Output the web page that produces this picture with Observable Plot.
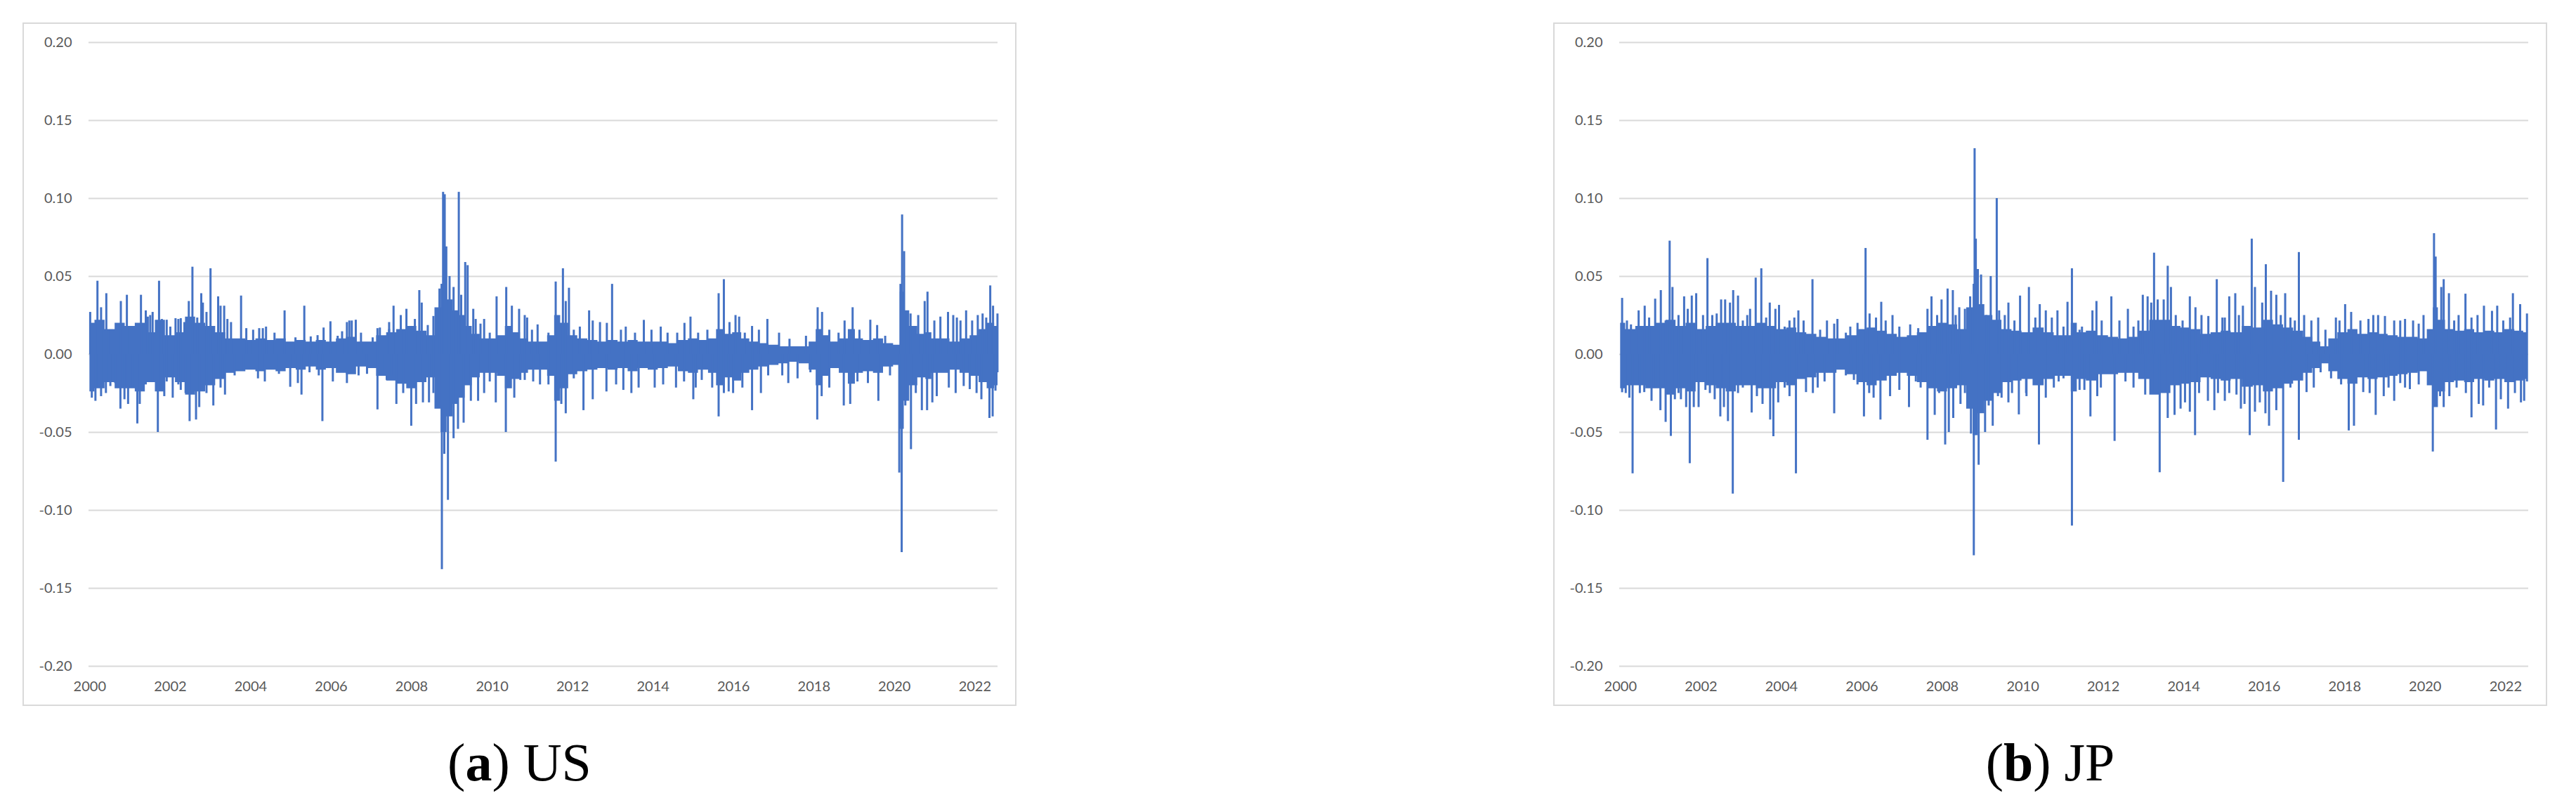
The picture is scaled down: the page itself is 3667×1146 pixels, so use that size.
<!DOCTYPE html>
<html>
<head>
<meta charset="utf-8">
<script src="https://cdn.jsdelivr.net/npm/d3@7"></script>
<script src="https://cdn.jsdelivr.net/npm/@observablehq/plot@0.6"></script>
<style>
  html, body { margin: 0; padding: 0; background: #ffffff; }
  body { width: 3667px; height: 1146px; position: relative; overflow: hidden; }
  .panel { position: absolute; top: 32px; width: 1415px; height: 973px; }
  .frame { position: absolute; left: 0; top: 0; width: 1415px; height: 973px; box-sizing: border-box; border: 2px solid #d9d9d9; pointer-events: none; }
  .caption { position: absolute; top: 1040px; width: 1415px; text-align: center; font-family: "Liberation Serif", "Times New Roman", serif; font-size: 76px; color: #000; line-height: 90px; }
  .caption b { font-weight: bold; }
</style>
</head>
<body>
<script>
// ---------------- data ----------------
const panelNames = ["US", "JP"];
const panelLetters = ["a", "b"];
const yTicks = [-0.20, -0.15, -0.10, -0.05, 0.00, 0.05, 0.10, 0.15, 0.20];
const xTickYears = [2000, 2002, 2004, 2006, 2008, 2010, 2012, 2014, 2016, 2018, 2020, 2022];
const seriesStart = 1999.977;
const usSeriesEnd = 2022.57;
const jpSeriesEnd = 2022.57;

// dense body of the daily series: [decimal year, upper edge, lower edge]
const usCore = [
  [2000.0, 0.020, -0.024], [2000.25, 0.022, -0.022], [2000.5, 0.016, -0.018], [2000.75, 0.020, -0.022],
  [2001.0, 0.018, -0.022], [2001.25, 0.020, -0.024], [2001.5, 0.014, -0.018], [2001.75, 0.022, -0.024],
  [2002.0, 0.012, -0.015], [2002.25, 0.014, -0.018], [2002.5, 0.024, -0.026], [2002.75, 0.020, -0.024],
  [2003.0, 0.018, -0.020], [2003.25, 0.014, -0.016], [2003.5, 0.010, -0.012], [2003.75, 0.010, -0.011],
  [2004.0, 0.009, -0.010], [2004.25, 0.010, -0.011], [2004.5, 0.009, -0.010], [2004.75, 0.010, -0.011],
  [2005.0, 0.008, -0.009], [2005.25, 0.009, -0.010], [2005.5, 0.008, -0.008], [2005.75, 0.009, -0.010],
  [2006.0, 0.008, -0.009], [2006.25, 0.010, -0.012], [2006.5, 0.011, -0.013], [2006.75, 0.008, -0.008],
  [2007.0, 0.008, -0.009], [2007.25, 0.012, -0.014], [2007.5, 0.014, -0.017], [2007.75, 0.016, -0.019],
  [2008.0, 0.018, -0.022], [2008.25, 0.015, -0.018], [2008.5, 0.012, -0.015], [2008.65, 0.030, -0.035],
  [2008.8, 0.045, -0.050], [2008.95, 0.035, -0.040], [2009.1, 0.028, -0.032], [2009.25, 0.025, -0.028],
  [2009.4, 0.018, -0.020], [2009.6, 0.013, -0.015], [2009.8, 0.010, -0.012], [2010.0, 0.010, -0.012],
  [2010.25, 0.012, -0.014], [2010.4, 0.018, -0.022], [2010.6, 0.014, -0.016], [2010.8, 0.010, -0.012],
  [2011.0, 0.008, -0.010], [2011.25, 0.008, -0.010], [2011.5, 0.012, -0.014], [2011.6, 0.025, -0.030],
  [2011.8, 0.020, -0.022], [2012.0, 0.012, -0.013], [2012.25, 0.010, -0.011], [2012.5, 0.009, -0.010],
  [2012.75, 0.008, -0.009], [2013.0, 0.009, -0.010], [2013.25, 0.008, -0.009], [2013.5, 0.009, -0.011],
  [2013.75, 0.008, -0.009], [2014.0, 0.008, -0.010], [2014.25, 0.008, -0.009], [2014.5, 0.007, -0.008],
  [2014.75, 0.009, -0.011], [2015.0, 0.010, -0.012], [2015.25, 0.009, -0.010], [2015.5, 0.010, -0.012],
  [2015.65, 0.016, -0.020], [2015.85, 0.013, -0.015], [2016.1, 0.014, -0.017], [2016.3, 0.010, -0.012],
  [2016.5, 0.008, -0.010], [2016.75, 0.007, -0.008], [2017.0, 0.006, -0.007], [2017.25, 0.005, -0.006],
  [2017.5, 0.005, -0.005], [2017.75, 0.005, -0.006], [2018.0, 0.008, -0.010], [2018.1, 0.016, -0.020],
  [2018.3, 0.012, -0.014], [2018.5, 0.008, -0.009], [2018.75, 0.010, -0.012], [2018.95, 0.016, -0.019],
  [2019.1, 0.010, -0.012], [2019.35, 0.009, -0.011], [2019.6, 0.010, -0.012], [2019.85, 0.007, -0.008],
  [2020.1, 0.006, -0.007], [2020.18, 0.040, -0.048], [2020.3, 0.028, -0.030], [2020.45, 0.018, -0.020],
  [2020.7, 0.013, -0.015], [2020.85, 0.014, -0.016], [2021.0, 0.010, -0.012], [2021.25, 0.010, -0.012],
  [2021.5, 0.008, -0.010], [2021.75, 0.010, -0.012], [2022.0, 0.012, -0.014], [2022.2, 0.016, -0.018],
  [2022.4, 0.020, -0.022], [2022.57, 0.018, -0.020]
];
// individual large daily moves: [decimal year, return]
const usSpikes = [
  [2000.01, 0.027], [2000.19, 0.047], [2000.28, 0.030], [2000.41, 0.039], [2000.77, 0.034], [2000.92, 0.038],
  [2001.27, 0.038], [2001.39, 0.028], [2001.56, 0.027], [2001.72, 0.047], [2001.91, 0.022], [2002.13, 0.023],
  [2002.26, 0.023], [2002.46, 0.034], [2002.55, 0.056], [2002.77, 0.039], [2002.90, 0.027], [2003.00, 0.055],
  [2003.19, 0.037], [2003.34, 0.031], [2003.76, 0.0375], [2004.21, 0.0166], [2004.38, 0.0176], [2004.84, 0.028],
  [2005.33, 0.031], [2005.81, 0.017], [2005.98, 0.021], [2006.45, 0.0215], [2006.61, 0.022], [2007.21, 0.017],
  [2007.44, 0.016], [2007.55, 0.031], [2007.87, 0.029], [2008.19, 0.041], [2008.25, 0.033], [2008.54, 0.0244],
  [2008.69, 0.042], [2008.78, 0.104], [2008.82, 0.1025], [2008.86, 0.069], [2008.94, 0.050], [2009.04, 0.043],
  [2009.17, 0.104], [2009.23, 0.038], [2009.33, 0.059], [2009.39, 0.057], [2009.53, 0.029], [2009.80, 0.0225],
  [2010.11, 0.037], [2010.35, 0.043], [2010.49, 0.031], [2010.67, 0.029], [2010.87, 0.0234], [2011.13, 0.019],
  [2011.58, 0.0465], [2011.76, 0.055], [2011.83, 0.034], [2011.91, 0.0425], [2012.18, 0.0176], [2012.41, 0.028],
  [2012.68, 0.0205], [2012.85, 0.020], [2012.98, 0.045], [2013.32, 0.0176], [2013.77, 0.0219], [2014.19, 0.0176],
  [2014.78, 0.020], [2014.93, 0.024], [2015.63, 0.039], [2015.76, 0.048], [2016.05, 0.025], [2016.14, 0.024],
  [2016.46, 0.018], [2016.84, 0.0225], [2017.13, 0.0137], [2018.09, 0.030], [2018.20, 0.027], [2018.76, 0.0215],
  [2018.96, 0.030], [2019.40, 0.022], [2019.57, 0.0186], [2020.15, 0.045], [2020.19, 0.0895], [2020.24, 0.066],
  [2020.40, 0.026], [2020.75, 0.034], [2020.82, 0.040], [2021.14, 0.024], [2021.33, 0.027], [2021.55, 0.0234],
  [2021.78, 0.028], [2021.93, 0.0215], [2022.07, 0.025], [2022.19, 0.026], [2022.38, 0.044], [2022.45, 0.031],
  [2022.56, 0.026],
  [2000.05, -0.028], [2000.14, -0.030], [2000.28, -0.027], [2000.51, -0.0205], [2000.76, -0.035], [2000.95, -0.032],
  [2001.18, -0.0445], [2001.24, -0.032], [2001.69, -0.050], [2001.91, -0.0176], [2002.06, -0.028], [2002.26, -0.023],
  [2002.48, -0.043], [2002.64, -0.042], [2002.72, -0.034], [2003.07, -0.033], [2003.36, -0.026], [2004.18, -0.0156],
  [2004.35, -0.0176], [2004.98, -0.021], [2005.26, -0.026], [2005.78, -0.043], [2006.04, -0.0176], [2006.39, -0.0186],
  [2006.89, -0.0127], [2007.15, -0.0355], [2007.38, -0.0166], [2007.62, -0.032], [2007.99, -0.046], [2008.11, -0.032],
  [2008.43, -0.031], [2008.75, -0.138], [2008.81, -0.064], [2008.90, -0.0935], [2009.04, -0.054], [2009.15, -0.048],
  [2009.29, -0.044], [2009.47, -0.030], [2009.65, -0.030], [2010.09, -0.031], [2010.34, -0.050], [2010.55, -0.028],
  [2010.81, -0.0166], [2011.19, -0.0195], [2011.58, -0.069], [2011.72, -0.032], [2011.83, -0.038], [2012.27, -0.036],
  [2012.84, -0.024], [2013.26, -0.023], [2013.46, -0.025], [2014.04, -0.0215], [2014.57, -0.0215], [2015.00, -0.029],
  [2015.21, -0.0166], [2015.47, -0.0215], [2015.63, -0.040], [2015.88, -0.024], [2015.99, -0.025], [2016.46, -0.036],
  [2016.68, -0.025], [2017.21, -0.0137], [2017.36, -0.0186], [2017.59, -0.0156], [2018.08, -0.042], [2018.19, -0.027],
  [2018.74, -0.033], [2018.90, -0.032], [2019.34, -0.0186], [2019.60, -0.030], [2020.12, -0.076], [2020.18, -0.127],
  [2020.27, -0.033], [2020.41, -0.061], [2020.68, -0.036], [2020.81, -0.036], [2021.05, -0.027], [2021.35, -0.0215],
  [2021.72, -0.0205], [2021.87, -0.0225], [2022.16, -0.029], [2022.36, -0.041], [2022.44, -0.040], [2022.56, -0.0117]
];
// smaller daily moves that make the ragged edge of the band
const usMinor = [
  [2000.46, 0.0156], [2001.04, 0.0156], [2001.44, 0.024], [2001.50, 0.025], [2001.79, 0.0225], [2002.00, 0.0176],
  [2002.20, 0.0225], [2002.35, 0.0205], [2002.67, 0.0234], [2002.81, 0.033], [2003.25, 0.031], [2003.42, 0.0225],
  [2003.51, 0.0205], [2003.89, 0.0166], [2004.06, 0.0156], [2004.30, 0.0166], [2004.59, 0.0137], [2005.11, 0.0107],
  [2005.49, 0.0113], [2005.66, 0.0121], [2006.16, 0.0117], [2006.27, 0.0146], [2006.39, 0.0205], [2006.51, 0.0215],
  [2006.74, 0.0137], [2007.03, 0.0107], [2007.15, 0.0166], [2007.44, 0.0205], [2007.73, 0.025], [2008.08, 0.0225],
  [2008.40, 0.0186], [2009.59, 0.0225], [2009.71, 0.0195], [2009.94, 0.0137], [2010.81, 0.025], [2010.99, 0.0156],
  [2011.40, 0.0137], [2012.03, 0.0156], [2012.50, 0.0215], [2013.20, 0.0156], [2013.55, 0.0137], [2013.96, 0.0156],
  [2014.36, 0.0137], [2014.60, 0.0137], [2015.12, 0.0137], [2015.35, 0.0156], [2015.90, 0.0205], [2016.28, 0.0137],
  [2016.63, 0.0156], [2017.39, 0.0098], [2017.80, 0.0117], [2018.38, 0.0156], [2018.61, 0.0137], [2019.13, 0.0156],
  [2019.77, 0.0117], [2020.59, 0.025], [2020.99, 0.0215], [2021.46, 0.025], [2021.64, 0.0215], [2022.28, 0.0234],
  [2000.22, -0.0215], [2000.40, -0.025], [2000.63, -0.0186], [2000.86, -0.029], [2001.07, -0.0215], [2001.39, -0.0195],
  [2001.56, -0.0176], [2001.85, -0.027], [2002.20, -0.0195], [2002.38, -0.025], [2002.90, -0.025], [2003.25, -0.0215],
  [2003.60, -0.0137], [2003.83, -0.0107], [2004.70, -0.0127], [2005.17, -0.0186], [2005.46, -0.0117], [2005.69, -0.0137],
  [2006.68, -0.0137], [2007.26, -0.0117], [2007.50, -0.0137], [2007.79, -0.025], [2008.28, -0.031], [2008.54, -0.025],
  [2009.80, -0.025], [2009.94, -0.0176], [2010.70, -0.0166], [2011.02, -0.0176], [2011.40, -0.0195], [2012.03, -0.0156],
  [2012.50, -0.029], [2013.08, -0.0195], [2013.64, -0.0215], [2014.25, -0.0195], [2014.77, -0.0176], [2015.06, -0.0215],
  [2015.76, -0.025], [2016.22, -0.0215], [2016.86, -0.0137], [2017.91, -0.0117], [2018.38, -0.0215], [2019.08, -0.0176],
  [2019.89, -0.0137], [2020.53, -0.025], [2020.94, -0.031], [2021.52, -0.025], [2022.04, -0.025], [2022.51, -0.0235]
];

const jpCore = [
  [2000.0, 0.020, -0.022], [2000.25, 0.016, -0.020], [2000.5, 0.018, -0.020], [2000.75, 0.018, -0.022],
  [2001.0, 0.020, -0.022], [2001.25, 0.022, -0.026], [2001.5, 0.018, -0.022], [2001.75, 0.020, -0.024],
  [2002.0, 0.016, -0.018], [2002.25, 0.018, -0.020], [2002.5, 0.020, -0.022], [2002.75, 0.020, -0.024],
  [2003.0, 0.018, -0.020], [2003.25, 0.018, -0.020], [2003.5, 0.020, -0.022], [2003.75, 0.018, -0.022],
  [2004.0, 0.016, -0.018], [2004.25, 0.017, -0.020], [2004.5, 0.014, -0.016], [2004.75, 0.013, -0.015],
  [2005.0, 0.011, -0.012], [2005.25, 0.010, -0.012], [2005.5, 0.010, -0.010], [2005.75, 0.012, -0.013],
  [2006.0, 0.016, -0.018], [2006.25, 0.017, -0.020], [2006.5, 0.015, -0.017], [2006.75, 0.013, -0.014],
  [2007.0, 0.011, -0.012], [2007.25, 0.012, -0.014], [2007.5, 0.014, -0.018], [2007.75, 0.018, -0.022],
  [2008.0, 0.020, -0.024], [2008.25, 0.019, -0.022], [2008.5, 0.016, -0.020], [2008.7, 0.030, -0.035],
  [2008.82, 0.045, -0.052], [2008.95, 0.032, -0.038], [2009.15, 0.025, -0.030], [2009.35, 0.022, -0.025],
  [2009.6, 0.016, -0.018], [2009.85, 0.015, -0.017], [2010.1, 0.014, -0.016], [2010.4, 0.017, -0.020],
  [2010.65, 0.014, -0.016], [2010.9, 0.012, -0.014], [2011.15, 0.012, -0.014], [2011.25, 0.020, -0.024],
  [2011.45, 0.014, -0.016], [2011.7, 0.015, -0.017], [2012.0, 0.012, -0.013], [2012.25, 0.011, -0.013],
  [2012.5, 0.010, -0.012], [2012.75, 0.011, -0.012], [2013.0, 0.015, -0.016], [2013.3, 0.022, -0.026],
  [2013.55, 0.022, -0.025], [2013.8, 0.018, -0.020], [2014.05, 0.017, -0.019], [2014.3, 0.016, -0.018],
  [2014.55, 0.013, -0.015], [2014.8, 0.014, -0.016], [2015.05, 0.015, -0.017], [2015.3, 0.014, -0.016],
  [2015.6, 0.018, -0.021], [2015.85, 0.017, -0.020], [2016.1, 0.022, -0.024], [2016.35, 0.019, -0.022],
  [2016.6, 0.017, -0.019], [2016.85, 0.015, -0.017], [2017.1, 0.011, -0.012], [2017.3, 0.008, -0.009],
  [2017.5, 0.005, -0.006], [2017.7, 0.010, -0.011], [2017.95, 0.014, -0.016], [2018.2, 0.016, -0.019],
  [2018.45, 0.013, -0.015], [2018.7, 0.014, -0.016], [2018.95, 0.013, -0.015], [2019.2, 0.012, -0.014],
  [2019.45, 0.011, -0.013], [2019.7, 0.011, -0.012], [2019.95, 0.010, -0.011], [2020.15, 0.016, -0.020],
  [2020.25, 0.030, -0.034], [2020.4, 0.022, -0.024], [2020.6, 0.016, -0.018], [2020.85, 0.015, -0.017],
  [2021.1, 0.016, -0.018], [2021.35, 0.014, -0.016], [2021.6, 0.015, -0.017], [2021.85, 0.014, -0.016],
  [2022.1, 0.016, -0.018], [2022.35, 0.015, -0.017], [2022.54, 0.014, -0.016]
];
const jpSpikes = [
  [2000.04, 0.036], [2000.26, 0.019], [2000.45, 0.028], [2000.60, 0.031], [2000.86, 0.0355], [2001.00, 0.041],
  [2001.22, 0.0727], [2001.29, 0.043], [2001.58, 0.037], [2001.77, 0.0375], [2001.88, 0.039], [2002.16, 0.0615],
  [2002.39, 0.026], [2002.50, 0.035], [2002.60, 0.035], [2002.80, 0.041], [2002.92, 0.0375], [2003.22, 0.029],
  [2003.36, 0.049], [2003.50, 0.055], [2003.71, 0.033], [2003.94, 0.0315], [2004.20, 0.0215], [2004.42, 0.028],
  [2004.77, 0.048], [2005.13, 0.0215], [2005.39, 0.0225], [2005.71, 0.0176], [2005.89, 0.020], [2006.09, 0.068],
  [2006.19, 0.026], [2006.48, 0.0335], [2006.76, 0.025], [2007.20, 0.019], [2007.40, 0.0166], [2007.63, 0.029],
  [2007.73, 0.037], [2007.98, 0.035], [2008.13, 0.042], [2008.26, 0.041], [2008.42, 0.030], [2008.56, 0.029],
  [2008.69, 0.037], [2008.80, 0.132], [2008.83, 0.074], [2008.88, 0.0545], [2008.96, 0.051], [2009.20, 0.050],
  [2009.35, 0.100], [2009.41, 0.028], [2009.64, 0.033], [2009.93, 0.0375], [2010.15, 0.043], [2010.42, 0.032],
  [2010.57, 0.028], [2010.86, 0.028], [2011.11, 0.0335], [2011.22, 0.055], [2011.47, 0.0176], [2011.73, 0.028],
  [2011.83, 0.034], [2012.20, 0.037], [2012.61, 0.029], [2012.87, 0.0215], [2012.98, 0.038], [2013.10, 0.037],
  [2013.26, 0.065], [2013.35, 0.035], [2013.50, 0.035], [2013.60, 0.0566], [2013.68, 0.043], [2014.15, 0.037],
  [2014.29, 0.030], [2014.61, 0.0244], [2014.82, 0.048], [2014.96, 0.0234], [2015.13, 0.037], [2015.28, 0.039],
  [2015.47, 0.031], [2015.69, 0.074], [2015.77, 0.043], [2016.04, 0.0576], [2016.17, 0.0406], [2016.30, 0.038],
  [2016.52, 0.039], [2016.65, 0.0234], [2016.86, 0.0654], [2016.99, 0.025], [2017.34, 0.0234], [2017.78, 0.0234],
  [2018.01, 0.032], [2018.16, 0.027], [2018.59, 0.0225], [2018.83, 0.025], [2019.00, 0.0244], [2019.23, 0.0215],
  [2019.50, 0.0225], [2019.70, 0.0215], [2019.96, 0.025], [2020.22, 0.0775], [2020.26, 0.0625], [2020.40, 0.043],
  [2020.46, 0.048], [2020.59, 0.039], [2021.00, 0.0387], [2021.15, 0.0234], [2021.46, 0.031], [2021.66, 0.0277],
  [2021.79, 0.031], [2022.18, 0.039], [2022.36, 0.032], [2022.53, 0.026],
  [2000.04, -0.0245], [2000.22, -0.028], [2000.30, -0.0765], [2000.48, -0.025], [2000.77, -0.030], [2000.99, -0.036],
  [2001.12, -0.0435], [2001.25, -0.0525], [2001.35, -0.029], [2001.50, -0.029], [2001.63, -0.034], [2001.72, -0.070],
  [2001.94, -0.034], [2002.22, -0.025], [2002.48, -0.040], [2002.57, -0.034], [2002.67, -0.043], [2002.79, -0.0895],
  [2002.92, -0.025], [2003.26, -0.0375], [2003.53, -0.032], [2003.72, -0.042], [2003.80, -0.0527], [2003.92, -0.031],
  [2004.36, -0.0765], [2004.61, -0.0244], [2004.90, -0.0215], [2005.31, -0.038], [2005.80, -0.0166], [2006.05, -0.040],
  [2006.29, -0.028], [2006.46, -0.042], [2006.70, -0.027], [2007.17, -0.034], [2007.46, -0.0215], [2007.63, -0.055],
  [2007.81, -0.039], [2008.07, -0.058], [2008.16, -0.050], [2008.45, -0.032], [2008.71, -0.051], [2008.78, -0.129],
  [2008.90, -0.071], [2009.06, -0.050], [2009.25, -0.046], [2009.47, -0.028], [2009.64, -0.031], [2009.90, -0.0387],
  [2010.09, -0.027], [2010.40, -0.058], [2010.57, -0.028], [2010.89, -0.0176], [2011.22, -0.110], [2011.41, -0.023],
  [2011.68, -0.040], [2011.85, -0.027], [2012.28, -0.0557], [2012.55, -0.0176], [2013.04, -0.026], [2013.40, -0.0758],
  [2013.60, -0.041], [2013.77, -0.039], [2014.03, -0.031], [2014.15, -0.037], [2014.28, -0.052], [2014.60, -0.030],
  [2014.76, -0.036], [2015.02, -0.030], [2015.31, -0.026], [2015.51, -0.032], [2015.64, -0.052], [2015.77, -0.037],
  [2016.03, -0.038], [2016.12, -0.046], [2016.30, -0.036], [2016.47, -0.082], [2016.86, -0.055], [2017.05, -0.0244],
  [2017.23, -0.0215], [2017.66, -0.0156], [2017.91, -0.0195], [2018.10, -0.049], [2018.23, -0.046], [2018.46, -0.0244],
  [2018.77, -0.039], [2018.97, -0.027], [2019.23, -0.030], [2019.38, -0.0186], [2019.62, -0.0225], [2020.19, -0.0625],
  [2020.46, -0.034], [2020.60, -0.027], [2021.15, -0.0406], [2021.33, -0.032], [2021.44, -0.033], [2021.76, -0.0484],
  [2022.06, -0.035], [2022.38, -0.031], [2022.46, -0.030], [2022.53, -0.0176]
];
const jpMinor = [
  [2000.16, 0.0215], [2000.36, 0.0137], [2000.71, 0.0234], [2001.12, 0.0215], [2001.44, 0.025], [2001.67, 0.029],
  [2002.05, 0.025], [2002.28, 0.025], [2002.72, 0.033], [2003.04, 0.0215], [2003.15, 0.025], [2003.62, 0.0234],
  [2003.85, 0.029], [2004.08, 0.0176], [2004.32, 0.0234], [2004.55, 0.0215], [2004.96, 0.0156], [2005.31, 0.0195],
  [2005.60, 0.0137], [2006.35, 0.0234], [2006.59, 0.0215], [2006.93, 0.0176], [2007.87, 0.025], [2008.33, 0.025],
  [2009.09, 0.025], [2009.55, 0.025], [2009.79, 0.0215], [2010.31, 0.0234], [2010.72, 0.0234], [2011.01, 0.0176],
  [2011.41, 0.0156], [2011.96, 0.0215], [2012.40, 0.0215], [2012.75, 0.0176], [2013.19, 0.033], [2013.80, 0.025],
  [2013.97, 0.0215], [2014.44, 0.025], [2015.02, 0.0234], [2015.37, 0.025], [2015.95, 0.033], [2016.41, 0.025],
  [2016.76, 0.0215], [2017.17, 0.0215], [2017.52, 0.0156], [2017.87, 0.0215], [2018.39, 0.0215], [2018.71, 0.025],
  [2019.38, 0.0215], [2019.84, 0.0195], [2020.72, 0.0215], [2020.83, 0.025], [2021.30, 0.025], [2021.94, 0.0215],
  [2022.11, 0.0234],
  [2000.13, -0.025], [2000.59, -0.0244], [2000.88, -0.0215], [2001.44, -0.025], [2001.82, -0.034], [2002.11, -0.023],
  [2002.34, -0.029], [2003.04, -0.0215], [2003.39, -0.027], [2004.08, -0.0215], [2004.20, -0.027], [2004.78, -0.025],
  [2005.07, -0.0176], [2005.60, -0.0137], [2005.89, -0.0195], [2006.18, -0.025], [2006.93, -0.023], [2007.34, -0.0176],
  [2007.92, -0.025], [2008.27, -0.041], [2008.56, -0.025], [2009.15, -0.033], [2009.38, -0.027], [2009.73, -0.025],
  [2010.08, -0.025], [2010.77, -0.0215], [2011.01, -0.0156], [2011.53, -0.023], [2011.94, -0.0215], [2012.75, -0.0215],
  [2013.22, -0.025], [2013.92, -0.035], [2014.38, -0.025], [2014.85, -0.025], [2015.13, -0.025], [2015.42, -0.035],
  [2015.89, -0.031], [2016.65, -0.0215], [2017.40, -0.0117], [2017.92, -0.0156], [2018.62, -0.025], [2019.09, -0.0215],
  [2019.50, -0.0215], [2019.84, -0.0195], [2020.37, -0.027], [2020.78, -0.0215], [2021.01, -0.025], [2021.59, -0.0215],
  [2021.88, -0.029], [2022.23, -0.025]
];

// ---------------- drawing ----------------
const BLUE = "#4472c4";
const GRID = "#d9d9d9";
const LABEL = "#595959";

function toDate(y) {
  const yr = Math.floor(y);
  const a = Date.UTC(yr, 0, 1), b = Date.UTC(yr + 1, 0, 1);
  return new Date(a + (y - yr) * (b - a));
}

function makePanel(core, spikes, minor, endYear) {
  const coreRows = core.map(([t, hi, lo]) => ({date: toDate(t), hi, lo}));
  const spikeRows = spikes.concat(minor).map(([t, v]) => ({date: toDate(t), v}));
  return Plot.plot({
    width: 1415,
    height: 973,
    marginLeft: 94,
    marginRight: 27,
    marginTop: 28,
    marginBottom: 57,
    style: {fontFamily: "Lato, 'Open Sans', sans-serif", fontSize: "20px", color: LABEL, background: "transparent"},
    x: {type: "utc", domain: [toDate(seriesStart), toDate(endYear)], ticks: xTickYears.map(toDate),
        tickFormat: d3.utcFormat("%Y"), tickSize: 0, tickPadding: 21, label: null},
    y: {domain: [-0.2, 0.2], ticks: yTicks, tickFormat: d => d.toFixed(2), tickSize: 0, tickPadding: 24, label: null},
    marks: [
      Plot.ruleY(yTicks, {stroke: GRID, strokeWidth: 2.2}),
      Plot.areaY(coreRows, {x: "date", y1: "lo", y2: "hi", fill: BLUE, curve: "step"}),
      Plot.ruleX(spikeRows, {x: "date", y1: 0, y2: "v", stroke: BLUE, strokeWidth: 3})
    ]
  });
}

const panels = [
  {left: 32, core: usCore, spikes: usSpikes, minor: usMinor, end: usSeriesEnd},
  {left: 2211, core: jpCore, spikes: jpSpikes, minor: jpMinor, end: jpSeriesEnd}
];

panels.forEach((p, i) => {
  const div = document.createElement("div");
  div.className = "panel";
  div.style.left = p.left + "px";
  const svg = makePanel(p.core, p.spikes, p.minor, p.end);
  svg.style.position = "absolute";
  svg.style.left = "0px";
  svg.style.top = "0px";
  div.appendChild(svg);
  const frame = document.createElement("div");
  frame.className = "frame";
  div.appendChild(frame);
  document.body.appendChild(div);

  const cap = document.createElement("div");
  cap.className = "caption";
  cap.style.left = p.left + "px";
  cap.innerHTML = "(<b>" + panelLetters[i] + "</b>) " + panelNames[i];
  document.body.appendChild(cap);
});
</script>
</body>
</html>
